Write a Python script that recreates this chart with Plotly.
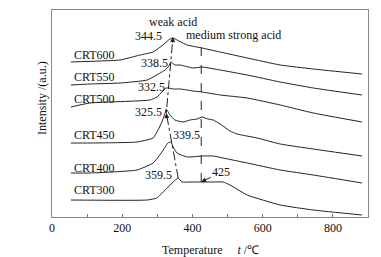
import plotly.graph_objects as go

# ---- data (temperature in deg C, intensity in a.u.) ----
t600 = [54, 137, 194, 251, 288, 316, 336, 344.5, 356, 385, 427, 479, 556, 650, 744, 883]
i600 = [155, 156, 157, 162, 165, 172, 178, 179, 177, 172, 169, 165, 159, 152, 148, 143]

t550 = [54, 108, 194, 271, 308, 322, 333, 338.5, 350, 365, 402, 427, 479, 556, 650, 744, 883]
i550 = [132, 133, 134, 137, 144, 147, 151, 155, 152, 152, 149, 150, 147, 142, 135, 129, 122]

t500 = [54, 108, 279, 299, 313, 325, 332.5, 345, 365, 402, 427, 479, 556, 650, 744, 883]
i500 = [110, 114, 117, 120, 125, 129, 129, 128, 128, 126, 125, 122, 119, 112, 104, 95]

t450 = [54, 108, 242, 288, 302, 313, 322, 325.5, 336, 350, 373, 393, 413, 427, 444, 459, 479, 507, 527, 584, 650, 744, 883]
i450 = [74, 74, 75, 79, 87, 95, 104, 108, 102, 97, 95, 97, 98, 100, 98, 97, 93, 86, 83, 79, 73, 68, 61]

t400 = [54, 108, 242, 288, 313, 330, 339.5, 345, 356, 385, 427, 459, 487, 556, 650, 744, 883]
i400 = [44, 44, 47, 54, 65, 74, 75, 70, 64, 60, 61, 61, 59, 54, 47, 42, 34]

t300 = [54, 271, 299, 308, 328, 345, 359.5, 370, 393, 427, 459, 487, 507, 556, 650, 744, 883]
i300 = [17, 17, 19, 22, 29, 35, 39, 35, 35, 35, 35, 35, 32, 22, 12, 7, 2]

series_names = ["CRT600", "CRT550", "CRT500", "CRT450", "CRT400", "CRT300"]
series_t = [t600, t550, t500, t450, t400, t300]
series_i = [i600, i550, i500, i450, i400, i300]

peak_t = [344.5, 338.5, 332.5, 325.5, 339.5, 359.5]
peak_labels = ["344.5", "338.5", "332.5", "325.5", "339.5", "359.5"]
strong_t = 425

FONT = "Liberation Serif, Times New Roman, serif"
INK = "#222222"

fig = go.Figure()
for name, tx, iy in zip(series_names, series_t, series_i):
    fig.add_trace(go.Scatter(x=tx, y=iy, mode="lines", name=name,
                             line=dict(color=INK, width=1, shape="spline", smoothing=0.45),
                             showlegend=False, hoverinfo="skip"))

# dash-dot guide through weak-acid peaks
fig.add_trace(go.Scatter(x=[peak_t[5], peak_t[3], peak_t[0]], y=[39, 104, 180],
                         mode="lines", line=dict(color=INK, width=1, dash="dashdot"),
                         showlegend=False, hoverinfo="skip"))
# dashed guide at medium strong acid
fig.add_trace(go.Scatter(x=[strong_t, strong_t], y=[35, 171], mode="lines",
                         line=dict(color=INK, width=1, dash="dash"),
                         showlegend=False, hoverinfo="skip"))

ann = []
def txt(x, y, s, anchor="center"):
    ann.append(dict(x=x, y=y, xref="x", yref="y", text=s, showarrow=False,
                    xanchor=anchor, yanchor="middle",
                    font=dict(family=FONT, size=12, color="#111")))

label_y = [162, 140, 118, 82, 49, 27]
for name, ly in zip(series_names, label_y):
    txt(57, ly, name, "left")

txt(345, 195, "weak acid")
txt(516, 182, "medium strong acid")
txt(276, 181, peak_labels[0])
txt(293, 154, peak_labels[1])
txt(282, 130, peak_labels[2])
txt(276, 105, peak_labels[3])
txt(382, 82, peak_labels[4])
txt(302, 42, peak_labels[5])

# arrowheads on dash-dot guide
for (xt, yt, xa, ya) in [(peak_t[0], 180, 343.2, 173), (peak_t[3], 104, 327.6, 97)]:
    ann.append(dict(x=xt, y=yt, xref="x", yref="y", ax=xa, ay=ya, axref="x", ayref="y",
                    text="", showarrow=True, arrowhead=2, arrowsize=1, arrowwidth=1,
                    arrowcolor=INK, standoff=0))

# 425 label with arrow
ann.append(dict(x=strong_t, y=35, xref="x", yref="y", ax=20, ay=-10, text="425",
                showarrow=True, arrowhead=2, arrowsize=1, arrowwidth=1, arrowcolor=INK,
                standoff=0, font=dict(family=FONT, size=12, color="#111")))

# axis titles
ann.append(dict(x=-0.06, y=0.575, xref="paper", yref="paper", text="Intensity /(a.u.)",
                showarrow=False, textangle=-90, font=dict(family=FONT, size=12, color="#111")))
ann.append(dict(x=0.5, y=-0.115, xref="paper", yref="paper", yanchor="top",
                text="Temperature\u00a0\u00a0\u00a0\u00a0\u00a0<i>t</i> /\u2103",
                showarrow=False, font=dict(family=FONT, size=12, color="#111")))

fig.update_layout(
    width=381, height=257,
    margin=dict(l=52, r=13, t=10, b=40),
    paper_bgcolor="white", plot_bgcolor="white",
    annotations=ann,
    xaxis=dict(range=[0, 900], tickvals=[0, 200, 400, 600, 800],
               ticks="inside", ticklen=3, tickcolor="#777",
               minor=dict(tickvals=[100, 300, 500, 700], ticks="inside", ticklen=3, tickcolor="#777"),
               showline=True, linecolor="#888", linewidth=1, mirror=True,
               showgrid=False, zeroline=False,
               tickfont=dict(family=FONT, size=12, color="#111")),
    yaxis=dict(range=[0, 207], showticklabels=False, ticks="",
               showline=True, linecolor="#888", linewidth=1, mirror=True,
               showgrid=False, zeroline=False),
)

fig.write_html("out.html", config={"displayModeBar": False, "staticPlot": True},
               post_script="document.body.style.margin='0';document.body.style.overflow='hidden';")
